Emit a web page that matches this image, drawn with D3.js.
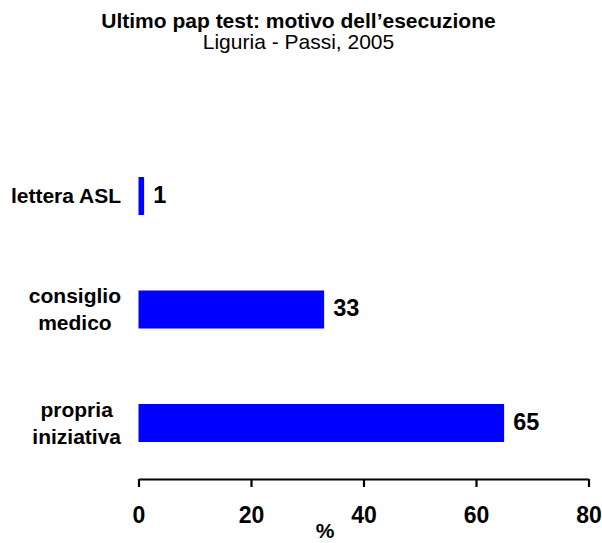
<!DOCTYPE html>
<html><head><meta charset="utf-8">
<script src="https://cdn.jsdelivr.net/npm/d3@7"></script>
<style>body{margin:0;background:#fff}svg{display:block;font-family:"Liberation Sans",Arial,sans-serif}</style>
</head><body>
<svg id="c" width="602" height="543"></svg>
<script>
const categories = [["lettera ASL"], ["consiglio","medico"], ["propria","iniziativa"]];
const values = [1, 33, 65];
const ticks = [0, 20, 40, 60, 80];
const title = "Ultimo pap test: motivo dell’esecuzione";
const subtitle = "Liguria - Passi, 2005";
const axisLabel = "%";

const svg = d3.select("#c");
const x = d3.scaleLinear().domain([0, 80]).range([138.5, 588.5]);
const y = d3.scaleBand().domain(d3.range(values.length)).range([139.25, 479.75]).paddingInner(0.665).paddingOuter(0.3325);

svg.append("text").attr("x", 298.5).attr("y", 28).attr("text-anchor","middle")
  .attr("font-weight","bold").attr("font-size", 21).text(title);
svg.append("text").attr("x", 298.5).attr("y", 49).attr("text-anchor","middle")
  .attr("font-size", 21).text(subtitle);

svg.selectAll("rect.bar").data(values).join("rect").attr("class","bar")
  .attr("x", x(0)).attr("y", (d,i)=>y(i)).attr("width", d=>x(d)-x(0)).attr("height", y.bandwidth())
  .attr("fill","#0000ff");

svg.selectAll("text.val").data(values).join("text").attr("class","val")
  .attr("x", d=>x(d)+9).attr("y", (d,i)=>y(i)+y.bandwidth()/2-1.5).attr("dy","0.36em")
  .attr("font-weight","bold").attr("font-size", 23.5).text(d=>d);

categories.forEach((lines,i)=>{
  const g = svg.append("g");
  const n = lines.length, lh = 27;
  const cy = y(i)+y.bandwidth()/2;
  const ts = lines.map((l,j)=> g.append("text").attr("text-anchor","middle")
     .attr("y", cy + (j-(n-1)/2)*lh).attr("dy","0.35em")
     .attr("font-weight","bold").attr("font-size", 21).text(l));
  const w = d3.max(ts, t=>t.node().getComputedTextLength());
  ts.forEach(t=>t.attr("x", 121 - w/2));
});

const ax = svg.append("g").attr("transform","translate(0,479)")
  .call(d3.axisBottom(x).tickValues(ticks).tickSize(8).tickSizeOuter(0).tickPadding(20));
ax.select(".domain").attr("stroke","#000").attr("stroke-width",2.2);
ax.selectAll(".tick line").attr("stroke","#000").attr("stroke-width",2.2);
ax.selectAll(".tick text").attr("font-family","Liberation Sans, Arial, sans-serif")
  .attr("font-weight","bold").attr("font-size",23).attr("fill","#000");

svg.append("text").attr("x", 325).attr("y", 538).attr("text-anchor","middle")
  .attr("font-weight","bold").attr("font-size", 21).text(axisLabel);
</script>
</body></html>
